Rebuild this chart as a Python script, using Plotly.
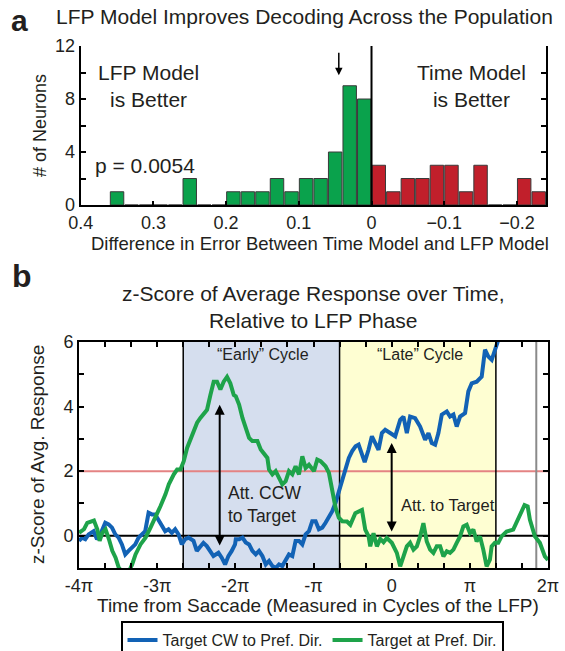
import plotly.graph_objects as go

# ---------------- Panel a: histogram data ----------------
lfp_better_centers = [0.01, 0.03, 0.05, 0.07, 0.09, 0.11, 0.13, 0.15, 0.17, 0.19,
                      0.21, 0.23, 0.25, 0.27, 0.29, 0.31, 0.33, 0.35]
lfp_better_counts = [8, 9, 4, 2, 2, 1, 2, 1, 1, 1, 0, 0, 2, 0, 0, 0, 0, 1]
time_better_centers = [-0.01, -0.03, -0.05, -0.07, -0.09, -0.11, -0.13, -0.15,
                       -0.17, -0.19, -0.21, -0.23]
time_better_counts = [3, 1, 2, 2, 3, 3, 1, 3, 0, 0, 2, 1]
median_marker_x = 0.045

a_xtick_vals = [0.4, 0.3, 0.2, 0.1, 0.0, -0.1, -0.2]
a_xtick_text = ["0.4", "0.3", "0.2", "0.1", "0", "\u22120.1", "\u22120.2"]
a_ytick_vals = [0, 2, 4, 6, 8, 10, 12]
a_ytick_text = ["0", "", "4", "", "8", "", "12"]

# ---------------- Panel b: z-score traces (x in units of pi) ----------------
cw_x = [-4.0, -3.961, -3.919, -3.877, -3.813, -3.77, -3.728, -3.664, -3.621, -3.578,
        -3.536, -3.493, -3.451, -3.408, -3.366, -3.323, -3.28, -3.238, -3.195, -3.153,
        -3.11, -3.068, -3.025, -2.983, -2.94, -2.897, -2.855, -2.812, -2.77, -2.727,
        -2.685, -2.642, -2.599, -2.535, -2.493, -2.45, -2.408, -2.365, -2.323, -2.28,
        -2.216, -2.174, -2.131, -2.089, -2.046, -2.004, -1.994, -1.952, -1.909, -1.867,
        -1.824, -1.782, -1.739, -1.697, -1.654, -1.611, -1.569, -1.526, -1.484, -1.441,
        -1.399, -1.356, -1.314, -1.271, -1.229, -1.186, -1.143, -1.101, -1.058, -1.016,
        -0.973, -0.931, -0.888, -0.846, -0.803, -0.76, -0.718, -0.676, -0.633, -0.59,
        -0.548, -0.505, -0.462, -0.423, -0.381, -0.345, -0.296, -0.253, -0.21, -0.168,
        -0.125, -0.083, -0.019, 0.045, 0.109, 0.151, 0.194, 0.236, 0.3, 0.364,
        0.428, 0.471, 0.513, 0.556, 0.598, 0.641, 0.705, 0.747, 0.79, 0.832,
        0.875, 0.939, 0.981, 1.024, 1.088, 1.152, 1.194, 1.237, 1.28, 1.322,
        1.365, 1.45]
cw_z = [-0.16, -0.06, -0.11, 0.04, 0.14, -0.11, 0.04, 0.40, 0.35, 0.25,
        0.04, -0.06, -0.27, -0.58, -0.47, -0.37, -0.27, -0.06, 0.04, 0.14,
        0.71, 0.66, 0.66, 0.50, 0.35, 0.14, 0.20, 0.09, 0.20, 0.04,
        -0.27, -0.11, -0.06, -0.16, -0.47, -0.32, -0.22, -0.32, -0.47, -0.63,
        -0.53, -0.68, -0.89, -0.63, -0.47, -0.27, -0.11, -0.11, -0.06, -0.21,
        -0.27, -0.47, -0.58, -0.47, -0.63, -0.89, -0.78, -0.94, -1.0, -0.89,
        -0.94, -0.78, -0.58, -0.63, -0.16, -0.16, -0.27, 0.04, 0.14, 0.45,
        0.45, 0.20, 0.25, 0.40, 0.56, 0.76, 1.02, 1.38, 1.79, 2.15,
        2.41, 2.62, 2.77, 2.82, 2.56, 2.28, 2.66, 3.08, 2.87, 2.66,
        3.18, 3.28, 3.18, 3.08, 3.59, 3.69, 3.18, 3.69, 3.64, 3.38,
        2.97, 3.18, 2.87, 2.82, 3.18, 3.75, 3.85, 3.69, 3.75, 3.38,
        3.69, 3.80, 4.47, 4.72, 4.77, 4.93, 5.76, 5.55, 5.45, 5.81,
        6.07, 6.30]

pref_x = [-4.0, -3.936, -3.894, -3.809, -3.766, -3.736, -3.702, -3.66, -3.617, -3.574,
          -3.532, -3.49, -3.43, -3.36, -3.32, -3.277, -3.213, -3.149, -3.085, -3.021,
          -2.957, -2.894, -2.851, -2.787, -2.745, -2.702, -2.66, -2.617, -2.553, -2.489,
          -2.447, -2.404, -2.362, -2.319, -2.277, -2.234, -2.191, -2.149, -2.106, -2.064,
          -2.02, -1.994, -1.952, -1.909, -1.867, -1.824, -1.782, -1.718, -1.675, -1.633,
          -1.59, -1.569, -1.526, -1.484, -1.441, -1.399, -1.356, -1.314, -1.271, -1.229,
          -1.186, -1.143, -1.101, -1.058, -0.994, -0.952, -0.91, -0.846, -0.803, -0.76,
          -0.718, -0.676, -0.633, -0.572, -0.529, -0.465, -0.38, -0.338, -0.295, -0.274,
          -0.232, -0.189, -0.146, -0.104, -0.062, 0.002, 0.066, 0.109, 0.151, 0.194,
          0.236, 0.279, 0.322, 0.364, 0.406, 0.449, 0.492, 0.534, 0.577, 0.62,
          0.662, 0.705, 0.747, 0.79, 0.832, 0.875, 0.917, 0.96, 1.002, 1.045,
          1.087, 1.13, 1.172, 1.215, 1.257, 1.279, 1.321, 1.364, 1.406, 1.47,
          1.555, 1.619, 1.70, 1.74, 1.768, 1.832, 1.896, 1.96, 2.0]
pref_z = [0.09, 0.20, 0.40, 0.47, 0.20, -0.16, 0.09, 0.20, -0.11, -0.47,
          -0.68, -1.0, -1.15, -1.10, -0.89, -0.58, -0.27, -0.06, 0.25, 0.56,
          0.92, 1.28, 1.59, 1.90, 2.05, 2.05, 2.31, 2.72, 3.13, 3.50,
          3.65, 3.80, 3.90, 4.36, 4.77, 4.77, 4.53, 4.77, 4.92, 4.72,
          4.36, 4.32, 4.06, 3.65, 3.34, 3.03, 2.93, 2.93, 2.67, 2.52,
          2.41, 2.05, 1.90, 2.00, 1.79, 1.59, 1.69, 2.00, 1.90, 2.15,
          1.90, 2.46, 2.10, 2.20, 2.00, 2.36, 2.31, 2.15, 1.95, 1.38,
          0.87, 0.56, 0.45, 0.44, 0.34, 0.70, 0.80, 0.19, -0.02, -0.33,
          0.08, -0.33, -0.10, -0.20, -0.07, -0.22, -0.53, -0.95, -0.64, -0.33,
          -0.22, -0.43, -0.33, -0.02, 0.39, -0.18, -0.43, -0.53, -0.33, -0.33,
          -0.64, -0.48, -0.53, -0.43, -0.22, -0.02, 0.29, 0.34, 0.08, 0.19,
          -0.18, -0.02, -0.43, -0.95, -0.74, -0.33, -0.22, -0.22, -0.02, 0.13,
          0.19, 0.55, 0.95, 0.91, 0.50, -0.02, -0.22, -0.64, -0.75]

b_xtick_vals = [-4, -11/3, -10/3, -3, -8/3, -7/3, -2, -5/3, -4/3, -1, -2/3, -1/3,
                0, 1/3, 2/3, 1, 4/3, 5/3, 2]
b_xtick_text = ["-4\u03c0", "", "", "-3\u03c0", "", "", "-2\u03c0", "", "", "-\u03c0", "", "",
                "0", "", "", "\u03c0", "", "", "2\u03c0"]
b_ytick_vals = [-1, 0, 1, 2, 3, 4, 5, 6]
b_ytick_text = ["", "0", "", "2", "", "4", "", "6"]

early_cycle = [-8/3, -2/3]
late_cycle = [-2/3, 4/3]
gray_marker_x = 1.85
threshold_z = 2

W, H = 565, 651
FONT = "Arial, Liberation Sans, sans-serif"
TXT = "#231f20"
BLUE = "#1262b5"
GREEN = "#1ea34a"


def px(p):
    return p / W


def py(p):
    return 1 - p / H


fig = go.Figure()

fig.add_trace(go.Bar(x=lfp_better_centers, y=lfp_better_counts, width=0.0185,
                     marker=dict(color="#0aa24c", line=dict(color="#3a3a3a", width=1)),
                     xaxis="x", yaxis="y", showlegend=False))
fig.add_trace(go.Bar(x=time_better_centers, y=time_better_counts, width=0.0185,
                     marker=dict(color="#c11f2b", line=dict(color="#3a3a3a", width=1)),
                     xaxis="x", yaxis="y", showlegend=False))

fig.add_trace(go.Scatter(x=cw_x, y=cw_z, mode="lines", name="Target CW to Pref. Dir.",
                         line=dict(color=BLUE, width=4), xaxis="x2", yaxis="y2"))
fig.add_trace(go.Scatter(x=pref_x, y=pref_z, mode="lines", name="Target at Pref. Dir.",
                         line=dict(color=GREEN, width=4), xaxis="x2", yaxis="y2"))

axis_common = dict(showline=True, linewidth=2, linecolor="black", ticks="inside",
                   tickwidth=2, tickcolor="black", showgrid=False, zeroline=False,
                   automargin=False,
                   tickfont=dict(family=FONT, size=18, color=TXT))

fig.update_layout(
    width=W, height=H, autosize=False,
    margin=dict(l=0, r=0, t=0, b=0, pad=0, autoexpand=False),
    paper_bgcolor="white", plot_bgcolor="white",
    font=dict(family=FONT, color=TXT),
    barmode="overlay",
    xaxis=dict(domain=[px(80.7), px(546)], range=[0.4, -0.24], anchor="y",
               tickmode="array", tickvals=a_xtick_vals, ticktext=a_xtick_text,
               ticklen=4, **axis_common),
    yaxis=dict(domain=[py(205), py(46)], range=[0, 12], anchor="x",
               tickmode="array", tickvals=a_ytick_vals, ticktext=a_ytick_text,
               ticklen=5, mirror="ticks", **axis_common),
    xaxis2=dict(domain=[px(79), px(548)], range=[-4, 2], anchor="y2",
                tickmode="array", tickvals=b_xtick_vals, ticktext=b_xtick_text,
                ticklen=5, mirror="ticks", **axis_common),
    yaxis2=dict(domain=[py(568), py(342)], range=[-1, 6], anchor="x2",
                tickmode="array", tickvals=b_ytick_vals, ticktext=b_ytick_text,
                ticklen=5, mirror="ticks", **axis_common),
    legend=dict(orientation="h", x=px(312), xanchor="center", y=py(621), yanchor="top",
                bordercolor="black", borderwidth=2, bgcolor="white",
                font=dict(family=FONT, size=16, color=TXT), itemwidth=30),
)

shapes = []
# panel a zero line
shapes.append(dict(type="line", xref="x", yref="y", x0=0, x1=0, y0=0, y1=12,
                   line=dict(color="black", width=2)))
# panel b shaded cycles
shapes.append(dict(type="rect", xref="x2", yref="y2", x0=early_cycle[0], x1=early_cycle[1],
                   y0=-1, y1=6, fillcolor="#d5deee", line=dict(width=0), layer="below"))
shapes.append(dict(type="rect", xref="x2", yref="y2", x0=late_cycle[0], x1=late_cycle[1],
                   y0=-1, y1=6, fillcolor="#fefed2", line=dict(width=0), layer="below"))
shapes.append(dict(type="line", xref="x2", yref="y2", x0=-4, x1=2, y0=threshold_z, y1=threshold_z,
                   line=dict(color="#e48383", width=2), layer="below"))
for xv in [early_cycle[0], early_cycle[1], late_cycle[1]]:
    shapes.append(dict(type="line", xref="x2", yref="y2", x0=xv, x1=xv, y0=-1, y1=6,
                       line=dict(color="black", width=1.5), layer="below"))
shapes.append(dict(type="line", xref="x2", yref="y2", x0=gray_marker_x, x1=gray_marker_x,
                   y0=-1, y1=6, line=dict(color="#8a8a8a", width=2), layer="below"))
shapes.append(dict(type="line", xref="x2", yref="y2", x0=-4, x1=2, y0=0, y1=0,
                   line=dict(color="black", width=2), layer="below"))
fig.update_layout(shapes=shapes)

ann = []


def text(x, y, s, size, xref="paper", yref="paper", **kw):
    d = dict(x=x, y=y, xref=xref, yref=yref, text=s, showarrow=False,
             xanchor="center", yanchor="middle",
             font=dict(family=FONT, size=size, color=kw.pop("color", TXT)))
    d.update(kw)
    ann.append(d)


text(px(19), py(21), "<b>a</b>", 30)
text(px(304), py(17), "LFP Model Improves Decoding Across the Population", 21)
text(px(40), py(126), "# of Neurons", 18, textangle=-90)
text(px(320), py(243), "Difference in Error Between Time Model and LFP Model", 18.5)
text(0.307, 9.0, "LFP Model<br>is Better", 21, xref="x", yref="y")
text(-0.138, 9.0, "Time Model<br>is Better", 21, xref="x", yref="y")
text(0.311, 3.0, "p = 0.0054", 21, xref="x", yref="y")

text(px(22), py(276), "<b>b</b>", 32)
text(px(313), py(307), "z-Score of Average Response over Time,<br>Relative to LFP Phase", 21)
text(px(37), py(455), "z-Score of Avg. Response", 19, textangle=-90)
text(px(318), py(605), "Time from Saccade (Measured in Cycles of the LFP)", 19)
text(-1.64, 5.6, "\u201cEarly\u201d Cycle", 16, xref="x2", yref="y2")
text(0.36, 5.6, "\u201cLate\u201d Cycle", 16, xref="x2", yref="y2")
text(-2.12, 0.97, "Att. CCW<br>to Target", 17.5, xref="x2", yref="y2", xanchor="left", align="left")
text(0.1, 0.96, "Att. to Target", 16.5, xref="x2", yref="y2", xanchor="left")

# arrows
ann.append(dict(x=median_marker_x, y=9.8, ax=median_marker_x, ay=11.6, xref="x", yref="y",
                axref="x", ayref="y", text="", showarrow=True, arrowhead=2, arrowsize=1,
                arrowwidth=1.5, arrowcolor="black"))
ann.append(dict(x=-2.2, y=-0.3, ax=-2.2, ay=4.1, xref="x2", yref="y2", axref="x2", ayref="y2",
                text="", showarrow=True, arrowhead=2, arrowside="end+start", arrowsize=1,
                arrowwidth=2, arrowcolor="black"))
ann.append(dict(x=0.0, y=0.13, ax=0.0, ay=2.92, xref="x2", yref="y2", axref="x2", ayref="y2",
                text="", showarrow=True, arrowhead=2, arrowside="end+start", arrowsize=1,
                arrowwidth=2, arrowcolor="black"))

fig.update_layout(annotations=ann)

fig.write_html("out.html")
